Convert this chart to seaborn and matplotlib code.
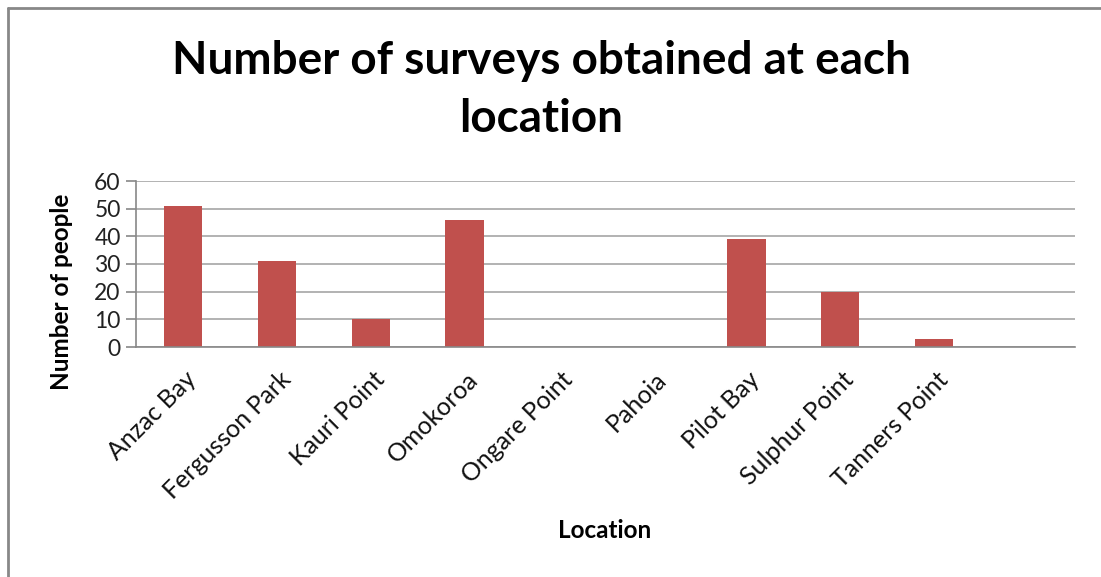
import matplotlib
matplotlib.use("Agg")
import matplotlib.pyplot as plt
import matplotlib.transforms as mtransforms
from matplotlib.lines import Line2D
import seaborn as sns
import pandas as pd

locations = ["Anzac Bay", "Fergusson Park", "Kauri Point", "Omokoroa", "Ongare Point",
             "Pahoia", "Pilot Bay", "Sulphur Point", "Tanners Point"]
people = [51, 31, 10, 46, 0, 0, 39, 20, 3]
yticks = [0, 10, 20, 30, 40, 50, 60]

sns.set_theme(style="white")
plt.rcParams["font.family"] = ["Lato", "DejaVu Sans"]

df = pd.DataFrame({"Location": locations, "People": people})

fig = plt.figure(figsize=(11.01, 5.77), dpi=100)
ax = fig.add_axes([136/1101, 1 - 347/577, (1075 - 136)/1101, (347 - 181)/577])

sns.barplot(data=df, x="Location", y="People", order=locations, color="#C0504D",
            saturation=1, width=0.41, ax=ax, edgecolor="none")

ax.set_xlim(-0.5, 9.5)
ax.set_ylim(0, 60)
ax.set_yticks(yticks)
ax.set_yticklabels([str(t) for t in yticks], fontsize=16.5, color="#222222")
ax.yaxis.grid(True, color="#A6A6A6", linewidth=1.2)
ax.set_axisbelow(True)
for s in ["top", "right"]:
    ax.spines[s].set_visible(False)
ax.spines["left"].set_color("#888888")
ax.spines["bottom"].set_color("#888888")
ax.spines["left"].set_linewidth(1.2)
ax.spines["bottom"].set_linewidth(1.2)
ax.tick_params(axis="y", left=True, length=7, width=1.2, color="#888888", pad=4)
ax.tick_params(axis="x", bottom=False, pad=6)

ax.set_xticks(range(len(locations)))
ax.set_xticklabels(locations, rotation=45, ha="right", va="center",
                   rotation_mode="anchor", fontsize=18, color="#111111")
offset = mtransforms.ScaledTranslation(10/100, -12/100, fig.dpi_scale_trans)
for lbl in ax.get_xticklabels():
    lbl.set_transform(lbl.get_transform() + offset)

ax.set_xlabel("Location", fontsize=17.5, fontweight="bold", color="black", labelpad=0)
ax.xaxis.set_label_coords((605 - 136)/939, -(519 - 347)/166)
ax.set_ylabel("Number of people", fontsize=17.5, fontweight="bold", color="black")
ax.yaxis.set_label_coords(-(136 - 73)/939, (347 - 292)/166)

fig.text(541/1101, 1 - 90/577, "Number of surveys obtained at each\nlocation",
         ha="center", va="center", fontsize=33, fontweight="bold",
         linespacing=1.48, color="black")

fig.add_artist(Line2D([8/1101, 8/1101], [0, 1 - 8/577], transform=fig.transFigure,
                      color="#888888", linewidth=2))
fig.add_artist(Line2D([8/1101, 1], [1 - 8/577, 1 - 8/577], transform=fig.transFigure,
                      color="#888888", linewidth=2))

fig.savefig("out.png", dpi=100)
